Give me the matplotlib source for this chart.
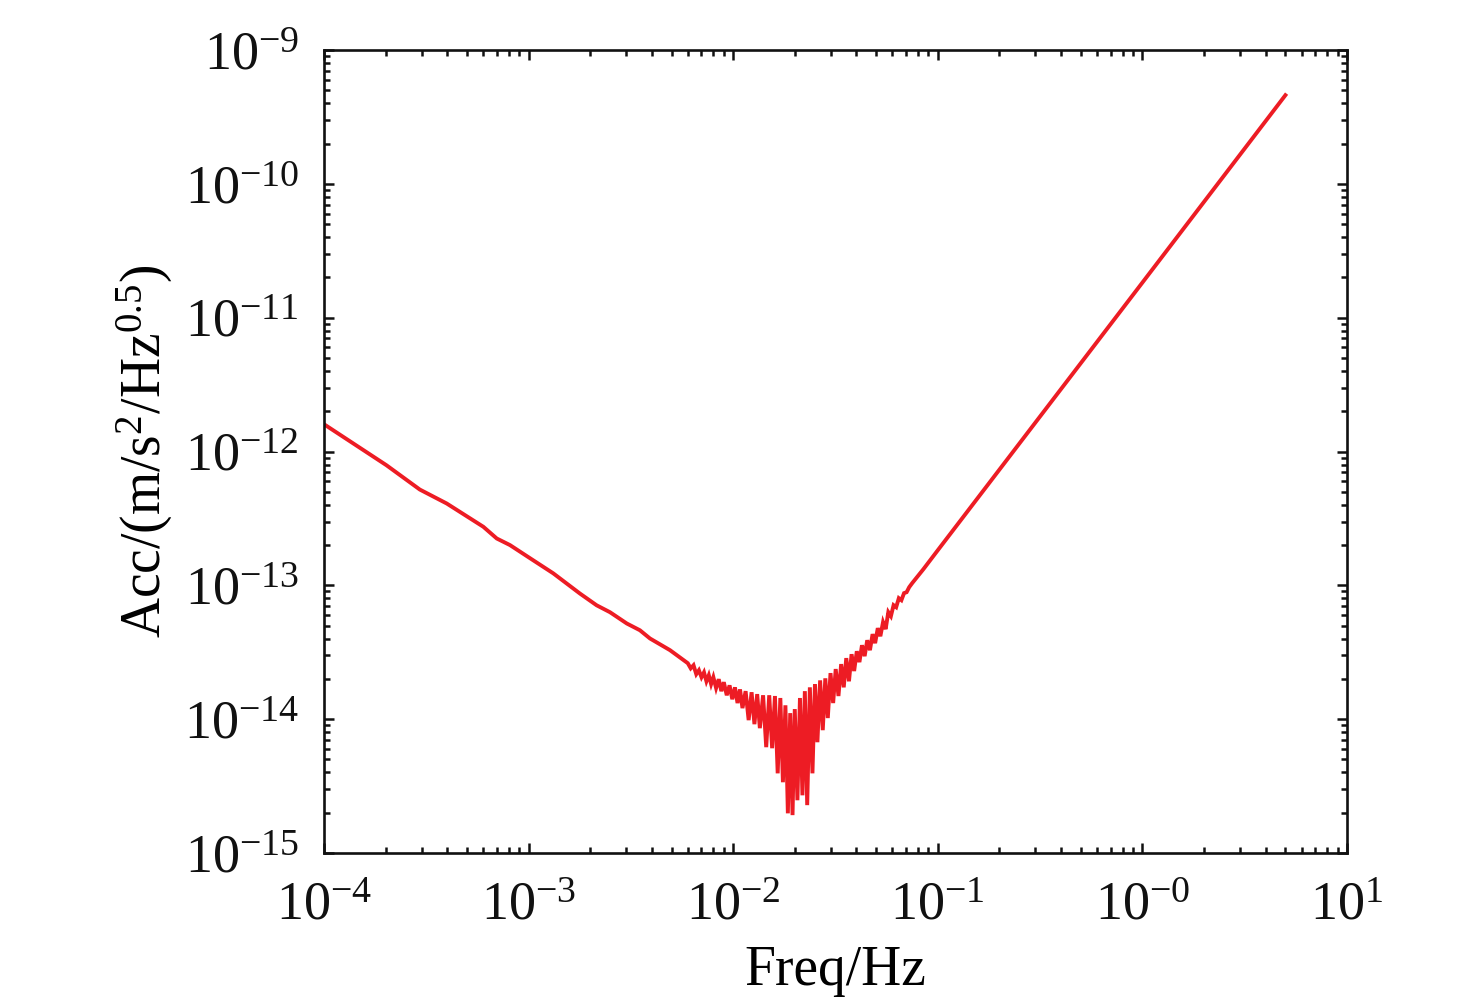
import matplotlib
matplotlib.use("Agg")
import matplotlib.pyplot as plt
from matplotlib.ticker import FixedLocator, FixedFormatter, LogLocator, NullFormatter

plt.rcParams['font.family'] = ['Liberation Serif', 'DejaVu Serif']
plt.rcParams['mathtext.fontset'] = 'custom'
plt.rcParams['mathtext.rm'] = 'Liberation Serif'
plt.rcParams['mathtext.it'] = 'Liberation Serif:italic'
plt.rcParams['mathtext.bf'] = 'Liberation Serif:bold'

# ---- data ----
freq_low = [1.0e-4, 2.02e-4, 2.94e-4, 3.98e-4, 6.01e-4, 6.99e-4, 8.11e-4, 1.02e-3,
            1.32e-3, 1.78e-3, 2.15e-3, 2.50e-3, 3.02e-3, 3.50e-3, 3.92e-3, 4.91e-3]
acc_low = [1.60e-12, 7.9e-13, 5.2e-13, 4.09e-13, 2.74e-13, 2.24e-13, 2.0e-13, 1.59e-13,
           1.23e-13, 8.7e-14, 7.1e-14, 6.3e-14, 5.19e-14, 4.62e-14, 4.01e-14, 3.28e-14]

freq_mid = [6.0e-3, 6.2e-3, 6.4e-3, 6.6e-3, 6.8e-3, 7.0e-3, 7.2e-3, 7.4e-3, 7.6e-3, 7.8e-3,
            8.0e-3, 8.25e-3, 8.5e-3, 8.75e-3, 9.0e-3, 9.3e-3, 9.6e-3, 9.9e-3, 10.2e-3, 10.5e-3,
            10.8e-3, 11.1e-3, 11.5e-3, 11.9e-3, 12.3e-3, 12.7e-3, 13.1e-3, 13.5e-3, 14.0e-3, 14.5e-3,
            15.0e-3, 15.5e-3, 16.0e-3, 16.5e-3, 17.0e-3, 17.5e-3, 18.0e-3, 18.5e-3, 19.0e-3, 19.5e-3,
            20.0e-3, 20.6e-3, 21.2e-3, 21.8e-3, 22.4e-3, 23.0e-3, 23.7e-3, 24.4e-3, 25.1e-3, 25.8e-3,
            26.6e-3, 27.4e-3, 28.2e-3, 29.0e-3, 29.9e-3, 30.8e-3, 31.7e-3, 32.7e-3, 33.7e-3, 34.7e-3,
            35.7e-3, 36.8e-3, 37.9e-3, 39.0e-3, 40.2e-3, 41.4e-3, 42.6e-3, 43.9e-3, 45.2e-3, 46.6e-3,
            48.0e-3, 49.4e-3, 50.9e-3, 52.4e-3, 54.0e-3, 55.6e-3, 57.3e-3, 59.0e-3, 60.8e-3, 62.6e-3,
            64.5e-3, 66.4e-3, 68.4e-3, 70.4e-3, 72.5e-3, 75.0e-3]
acc_mid = [2.62e-14, 2.40e-14, 2.53e-14, 2.17e-14, 2.32e-14, 2.06e-14, 2.24e-14, 1.92e-14, 2.13e-14, 1.83e-14,
           2.06e-14, 1.71e-14, 1.99e-14, 1.62e-14, 1.89e-14, 1.51e-14, 1.79e-14, 1.41e-14, 1.73e-14, 1.32e-14,
           1.67e-14, 1.21e-14, 1.62e-14, 9.84e-15, 1.59e-14, 9.18e-15, 1.54e-14, 8.57e-15, 1.51e-14, 6.18e-15,
           1.51e-14, 6.07e-15, 1.49e-14, 3.94e-15, 1.44e-14, 3.38e-15, 1.27e-14, 1.98e-15, 1.11e-14, 1.92e-15,
           1.19e-14, 2.48e-15, 1.44e-14, 2.70e-15, 1.62e-14, 2.28e-15, 1.73e-14, 3.94e-15, 1.83e-14, 6.73e-15,
           1.95e-14, 8.28e-15, 2.02e-14, 1.02e-14, 2.21e-14, 1.32e-14, 2.37e-14, 1.49e-14, 2.58e-14, 1.73e-14,
           2.86e-14, 1.92e-14, 3.06e-14, 2.29e-14, 3.22e-14, 2.67e-14, 3.57e-14, 2.96e-14, 3.89e-14, 3.28e-14,
           4.32e-14, 3.70e-14, 4.79e-14, 4.17e-14, 5.31e-14, 4.71e-14, 6.31e-14, 5.89e-14, 7.11e-14, 6.87e-14,
           8.02e-14, 7.75e-14, 8.75e-14, 8.89e-14, 9.70e-14, 1.04e-13]

freq_high = [8.5e-2, 1.0e-1, 1.0e0, 5.0e0]
acc_high = [1.32e-13, 1.83e-13, 1.83e-11, 4.6e-10]

freq = freq_low + freq_mid + freq_high
acc = acc_low + acc_mid + acc_high

x_ticks = [1e-4, 1e-3, 1e-2, 1e-1, 1e0, 1e1]
x_tick_labels = [r'$\mathregular{10^{-4}}$', r'$\mathregular{10^{-3}}$', r'$\mathregular{10^{-2}}$',
                 r'$\mathregular{10^{-1}}$', r'$\mathregular{10^{-0}}$', r'$\mathregular{10^{1}}$']
y_ticks = [1e-15, 1e-14, 1e-13, 1e-12, 1e-11, 1e-10, 1e-9]
y_tick_labels = [r'$\mathregular{10^{-15}}$', r'$\mathregular{10^{-14}}$', r'$\mathregular{10^{-13}}$',
                 r'$\mathregular{10^{-12}}$', r'$\mathregular{10^{-11}}$', r'$\mathregular{10^{-10}}$',
                 r'$\mathregular{10^{-9}}$']

# ---- figure ----
fig = plt.figure(figsize=(14.76, 10.07), dpi=100)
ax = fig.add_axes([0.2195, 0.1529, 0.6931, 0.7974])

ax.plot(freq, acc, color='#ED1C24', linewidth=2.8, solid_joinstyle='miter')

ax.set_xscale('log')
ax.set_yscale('log')
ax.set_xlim(1e-4, 1e1)
ax.set_ylim(1e-15, 1e-9)

ax.xaxis.set_major_locator(FixedLocator(x_ticks))
ax.xaxis.set_major_formatter(FixedFormatter(x_tick_labels))
ax.yaxis.set_major_locator(FixedLocator(y_ticks))
ax.yaxis.set_major_formatter(FixedFormatter(y_tick_labels))
ax.xaxis.set_minor_locator(LogLocator(base=10, subs=range(2, 10), numticks=100))
ax.yaxis.set_minor_locator(LogLocator(base=10, subs=range(2, 10), numticks=100))
ax.xaxis.set_minor_formatter(NullFormatter())
ax.yaxis.set_minor_formatter(NullFormatter())

ax.tick_params(which='both', direction='in', top=True, right=True, width=1.8, colors='#111111')
ax.tick_params(which='major', length=7)
ax.tick_params(which='minor', length=4)
ax.tick_params(axis='both', which='major', labelsize=39)
ax.tick_params(axis='x', which='major', pad=20)
ax.tick_params(axis='y', which='major', pad=18)

for s in ax.spines.values():
    s.set_linewidth(1.9)
    s.set_color('#111111')

ax.set_xlabel('Freq/Hz', fontsize=40, labelpad=10)
ax.set_ylabel(r'Acc/(m/s$^{2}$/Hz$^{0.5}$)', fontsize=40, labelpad=6)

fig.savefig('out.png', dpi=100, facecolor='white')
